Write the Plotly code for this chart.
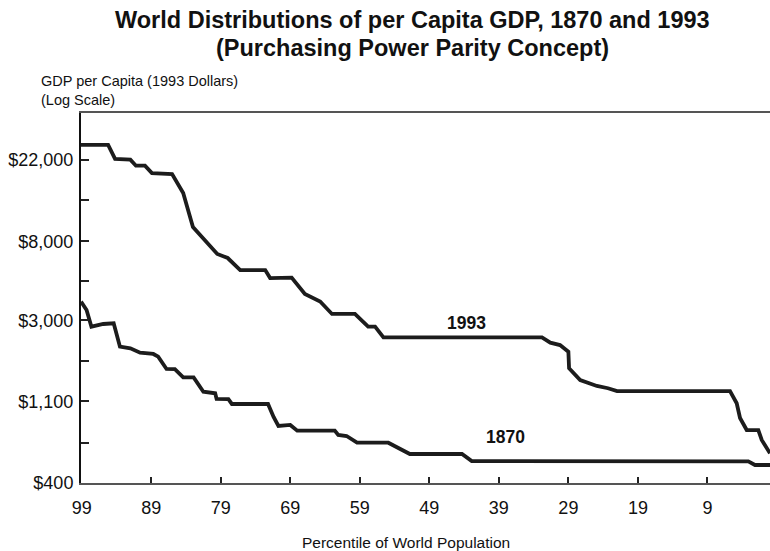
import plotly.graph_objects as go

# Percentile of world population (100 = richest) and GDP per capita, 1993 dollars
pct_1993 = [99.1, 95.2, 94.2, 92.0, 91.2, 89.9, 88.9, 86.0, 84.4, 83.0, 79.5, 78.0,
            76.2, 72.6, 71.9, 68.8, 66.9, 64.7, 63.0, 59.7, 57.8, 56.8, 55.6, 32.8,
            31.6, 30.2, 29.0, 28.9, 27.3, 24.9, 23.3, 22.0, 5.75, 4.79, 4.31, 3.35,
            1.68, 1.19, 0.0]
gdp_1993 = [26400, 26400, 22200, 22000, 20400, 20400, 18600, 18400, 14550, 9550, 6830, 6500,
            5600, 5600, 5070, 5100, 4160, 3790, 3250, 3250, 2775, 2775, 2430, 2430,
            2276, 2210, 2035, 1657, 1433, 1331, 1294, 1250, 1250, 1074, 895, 771,
            771, 682, 578]

pct_1870 = [99.1, 98.3, 97.6, 95.9, 94.4, 93.5, 92.0, 90.6, 88.7, 88.0, 86.8, 85.6,
            84.4, 82.9, 81.5, 79.8, 79.6, 77.9, 77.4, 72.2, 71.4, 70.7, 69.0, 68.0,
            62.6, 62.1, 60.9, 59.4, 54.9, 51.8, 44.3, 42.9, 3.12, 2.16, 0.0]
gdp_1870 = [3784, 3414, 2775, 2870, 2895, 2166, 2122, 2011, 1979, 1913, 1643, 1640,
            1482, 1482, 1240, 1216, 1133, 1130, 1065, 1065, 906, 811, 821, 765,
            765, 725, 716, 659, 659, 573, 573, 525, 523, 500, 500]

y_tick_vals = [400, 1100, 3000, 8000, 22000]
y_tick_text = ["$400", "$1,100", "$3,000", "$8,000", "$22,000"]
y_minor_vals = [660, 1820, 4900, 13300]
x_tick_vals = [99, 89, 79, 69, 59, 49, 39, 29, 19, 9]

LINE = "#1c1c1c"
FONT = "Liberation Sans, Arial, Helvetica, sans-serif"

fig = go.Figure()
for xs, ys in ((pct_1993, gdp_1993), (pct_1870, gdp_1870)):
    fig.add_trace(go.Scatter(x=xs, y=ys, mode="lines",
                             line=dict(color=LINE, width=3.8),
                             hoverinfo="skip", showlegend=False))

fig.update_layout(
    width=770, height=551,
    margin=dict(l=81, r=0, t=113, b=68),
    paper_bgcolor="white", plot_bgcolor="white",
    font=dict(family=FONT, color="#111"),
    xaxis=dict(
        range=[99.1, 0], tickmode="array", tickvals=x_tick_vals,
        ticks="inside", ticklen=6, tickwidth=1.5, tickcolor="#222",
        showgrid=False, zeroline=False,
        showline=True, linecolor="#555", linewidth=2, mirror=True,
        tickfont=dict(size=18, family=FONT, color="#111"),
        ticklabelstandoff=7,
    ),
    yaxis=dict(
        type="log", range=[2.60206, 4.5933],
        tickmode="array", tickvals=y_tick_vals, ticktext=y_tick_text,
        ticks="inside", ticklen=8, tickwidth=1.5, tickcolor="#222",
        minor=dict(tickmode="array", tickvals=y_minor_vals, ticks="inside",
                   ticklen=8, tickwidth=1.5, tickcolor="#222", showgrid=False),
        showgrid=False, zeroline=False,
        showline=True, linecolor="#111", linewidth=2,
        tickfont=dict(size=18, family=FONT, color="#111"),
        ticklabelstandoff=2,
    ),
)

annotations = [
    dict(text="<b>World Distributions of per Capita GDP, 1870 and 1993</b>",
         xref="paper", yref="paper", x=0.481, y=1.251, showarrow=False,
         xanchor="center", yanchor="middle", font=dict(size=23.5, family=FONT, color="#111")),
    dict(text="<b>(Purchasing Power Parity Concept)</b>",
         xref="paper", yref="paper", x=0.481, y=1.176, showarrow=False,
         xanchor="center", yanchor="middle", font=dict(size=23.5, family=FONT, color="#111")),
    dict(text="GDP per Capita (1993 Dollars)<br>(Log Scale)",
         xref="paper", yref="paper", x=-0.061, y=1.0595, showarrow=False,
         xanchor="left", yanchor="middle", align="left",
         font=dict(size=14.5, family=FONT, color="#111")),
    dict(text="Percentile of World Population",
         xref="paper", yref="paper", x=0.472, y=-0.162, showarrow=False,
         xanchor="center", yanchor="middle", font=dict(size=15.5, family=FONT, color="#111")),
    dict(text="<b>1993</b>", x=43.6, y=3.463, xref="x", yref="y", showarrow=False,
         xanchor="center", yanchor="middle", font=dict(size=17.5, family=FONT, color="#111")),
    dict(text="<b>1870</b>", x=38.1, y=2.849, xref="x", yref="y", showarrow=False,
         xanchor="center", yanchor="middle", font=dict(size=17.5, family=FONT, color="#111")),
]
fig.update_layout(annotations=annotations)

fig.write_html("out.html")
